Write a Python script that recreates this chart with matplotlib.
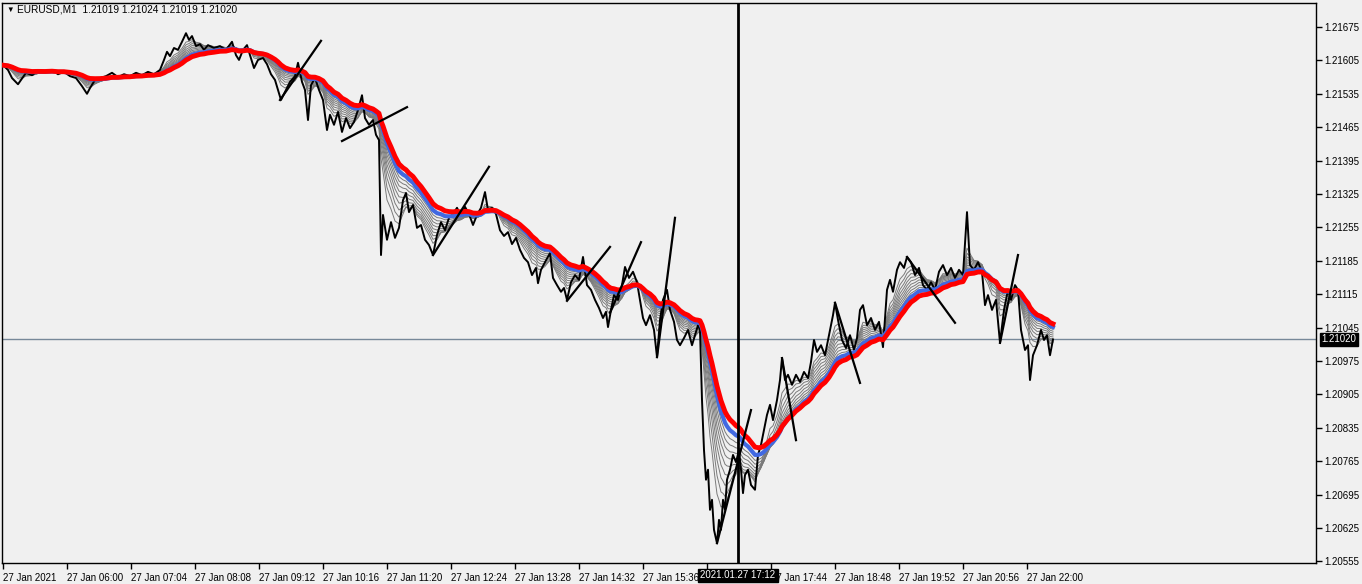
import numpy as np
import matplotlib
matplotlib.use("Agg")
import matplotlib.pyplot as plt

plt.rcParams['font.family'] = ['Liberation Sans', 'DejaVu Sans']

# minutes since 27 Jan 04:56 (first bar), traced price path (in points, 1e-5)
bar_minute = [
    0, 5, 9, 15, 18, 23, 29, 35, 42, 49, 55, 61, 67, 73, 79, 84, 87, 92, 97, 103,
    109, 115, 121, 127, 133, 139, 145, 151, 157, 161, 164, 167, 171, 175, 179, 183, 186, 189, 193, 197,
    201, 205, 211, 217, 223, 229, 233, 236, 240, 244, 247, 251, 255, 260, 264, 268, 272, 275, 278, 282,
    287, 292, 295, 299, 302, 305, 308, 312, 316, 320, 324, 327, 331, 335, 339, 343, 347, 351, 355, 359,
    362, 366, 370, 373, 376, 378, 380, 384, 388, 392, 396, 400, 403, 406, 410, 414, 418, 422, 426, 430,
    434, 438, 442, 446, 450, 454, 458, 462, 466, 470, 474, 478, 482, 485, 489, 493, 497, 501, 505, 509,
    513, 517, 521, 525, 529, 533, 535, 538, 542, 547, 550, 554, 558, 561, 564, 568, 572, 576, 580, 584,
    588, 592, 596, 600, 603, 605, 608, 611, 615, 619, 622, 626, 630, 634, 637, 640, 643, 647, 651, 654,
    657, 660, 664, 667, 671, 674, 677, 681, 685, 689, 692, 695, 697, 699, 701, 703, 705, 707, 709, 711,
    714, 716, 718, 720, 722, 724, 727, 730, 733, 736, 738, 740, 742, 745, 748, 752, 755, 758, 761, 764,
    767, 770, 774, 777, 779, 782, 785, 789, 793, 797, 801, 805, 808, 811, 814, 818, 822, 826, 830, 832,
    835, 839, 843, 847, 851, 854, 857, 860, 864, 868, 872, 876, 880, 884, 887, 890, 894, 897, 901, 904,
    908, 912, 916, 920, 924, 928, 932, 936, 940, 944, 948, 952, 956, 960, 964, 967, 971, 975, 979, 982,
    985, 989, 993, 997, 1001, 1005, 1008, 1012, 1015, 1018, 1022, 1025, 1027, 1030, 1034, 1038, 1041, 1044, 1047, 1050,
]
price_pts = [
    121595, 121585, 121568, 121555, 121564, 121579, 121574, 121583, 121581, 121585, 121576, 121581, 121572, 121568, 121551, 121535, 121547, 121564, 121568, 121572,
    121579, 121570, 121576, 121572, 121579, 121574, 121581, 121576, 121585, 121606, 121623, 121614, 121631, 121627, 121644, 121662, 121648, 121656, 121635, 121639,
    121627, 121637, 121631, 121635, 121627, 121644, 121616, 121606, 121627, 121637, 121616, 121589, 121606, 121610, 121597, 121576, 121564, 121543, 121522, 121539,
    121560, 121572, 121600, 121560, 121543, 121480, 121553, 121568, 121543, 121522, 121459, 121491, 121470, 121497, 121455, 121484, 121463, 121476, 121501, 121532,
    121484, 121470, 121480, 121449, 121438, 121197, 121281, 121229, 121266, 121233, 121254, 121312, 121327, 121287, 121302, 121254, 121260, 121229, 121218, 121197,
    121239, 121266, 121249, 121275, 121283, 121296, 121279, 121298, 121283, 121260, 121281, 121296, 121329, 121291, 121296, 121283, 121249, 121237, 121245, 121220,
    121233, 121208, 121191, 121182, 121155, 121170, 121138, 121166, 121182, 121201, 121149, 121134, 121120, 121128, 121103, 121140, 121155, 121145, 121193, 121134,
    121124, 121103, 121086, 121065, 121078, 121046, 121082, 121113, 121103, 121134, 121172, 121149, 121162, 121140, 121103, 121065, 121050, 121071, 121040, 120983,
    121061, 121103, 121124, 121082, 121057, 121019, 121008, 121023, 121040, 121008, 121029, 121050, 121040, 120893, 120788, 120726, 120747, 120663, 120684, 120621,
    120593, 120642, 120621, 120684, 120663, 120726, 120747, 120778, 120763, 120788, 120747, 120698, 120736, 120747, 120715, 120705, 120778, 120799, 120830, 120862,
    120883, 120851, 120893, 120935, 120981, 120935, 120946, 120925, 120946, 120931, 120952, 120939, 120973, 121019, 120994, 121008, 120987, 121029, 121071, 121097,
    121061, 121019, 121002, 121029, 120998, 121023, 121082, 121092, 121050, 121065, 121040, 121057, 121004, 121124, 121145, 121120, 121166, 121182, 121170, 121193,
    121182, 121155, 121170, 121134, 121124, 121140, 121124, 121162, 121176, 121155, 121170, 121149, 121166, 121155, 121287, 121176, 121166, 121182, 121162, 121092,
    121113, 121082, 121103, 121013, 121082, 121124, 121103, 121134, 121124, 121040, 120998, 121008, 120935, 120987, 121008, 121040, 121019, 121029, 120987, 121020,
]

# hand-drawn trend lines: (minute, points) start -> end
trend_start = [(277, 121522), (339, 121436), (430, 121197), (564, 121101), (607, 121076), (654, 120983),
               (714, 120593), (779, 120981), (832, 121097), (904, 121193), (997, 121013)]
trend_end = [(318, 121646), (404, 121507), (486, 121382), (607, 121214), (638, 121224), (672, 121275),
             (748, 120872), (793, 120809), (857, 120929), (952, 121055), (1015, 121197)]

ribbon_periods = [15, 20, 25, 30, 35, 40, 45, 50, 55]
blue_period = 62
red_period = 72

y_ticks = [1.20555, 1.20625, 1.20695, 1.20765, 1.20835, 1.20905, 1.20975, 1.21045, 1.21115,
           1.21185, 1.21255, 1.21325, 1.21395, 1.21465, 1.21535, 1.21605, 1.21675]
x_ticks = [0, 64, 128, 192, 256, 320, 384, 448, 512, 576, 640, 704, 768, 832, 896, 960, 1024]
# the 16:40 label sits under the crosshair time box, as in MT4
x_labels = ['27 Jan 2021', '27 Jan 06:00', '27 Jan 07:04', '27 Jan 08:08', '27 Jan 09:12', '27 Jan 10:16',
            '27 Jan 11:20', '27 Jan 12:24', '27 Jan 13:28', '27 Jan 14:32', '27 Jan 15:36', '',
            '27 Jan 17:44', '27 Jan 18:48', '27 Jan 19:52', '27 Jan 20:56', '27 Jan 22:00']

last_price = 1.21020
cross_minute = 735
cross_label = '2021.01.27 17:12'
header = 'EURUSD,M1  1.21019 1.21024 1.21019 1.21020'

t = np.array(bar_minute, dtype=float)
p = np.array(price_pts) / 1e5


def ema(t, p, n):
    a = 2.0 / (n + 1)
    out = [p[0]]
    for i in range(1, len(p)):
        k = 1 - (1 - a) ** (t[i] - t[i - 1])
        out.append(out[-1] + k * (p[i] - out[-1]))
    return np.array(out)


bg = '#f0f0f0'
fig = plt.figure(figsize=(13.62, 5.84), dpi=100, facecolor=bg)
ax = fig.add_axes([2 / 1362, 21 / 584, 1314 / 1362, 560 / 584], facecolor=bg)

for n in ribbon_periods:
    ax.plot(t, ema(t, p, n), color='#7a7a7a', lw=0.7, zorder=2)
ax.plot(t, p, color='black', lw=1.4, zorder=3)
ax.plot(t, ema(t, p, blue_period), color='#4169e1', lw=3, zorder=4)
ax.plot(t, ema(t, p, red_period), color='#ff0000', lw=3.5, zorder=5)

for (x0, y0), (x1, y1) in zip(trend_start, trend_end):
    ax.plot([x0, x1], [y0 / 1e5, y1 / 1e5], color='black', lw=1.6, zorder=6)

ax.axhline(last_price, color='#778899', lw=1, zorder=1)
ax.axvline(cross_minute, color='black', lw=2, zorder=7)

ax.set_xlim(-1, 1313)
ax.set_ylim(1.205515, 1.217253)

ax.yaxis.tick_right()
ax.set_yticks(y_ticks)
ax.set_yticklabels(['%.5f' % v for v in y_ticks])
ax.set_xticks(x_ticks)
ax.set_xticklabels(x_labels)
for lab in ax.get_xticklabels():
    lab.set_ha('left')
ax.tick_params(axis='both', direction='out', length=4, width=1, labelsize=7, colors='black', pad=2)
ax.tick_params(axis='x', pad=3)
for s in ax.spines.values():
    s.set_color('black')
    s.set_linewidth(1)

# current price and crosshair time labels
ax.annotate('%.5f' % last_price, xy=(1.0, last_price), xycoords=('axes fraction', 'data'),
            xytext=(4, 0), textcoords='offset points', va='center', ha='left', fontsize=7,
            color='white', bbox=dict(boxstyle='square,pad=0.15', fc='black', ec='black'), zorder=10,
            annotation_clip=False)
ax.annotate(cross_label, xy=(cross_minute, 0), xycoords=('data', 'axes fraction'),
            xytext=(0, -9), textcoords='offset points', va='center', ha='center', fontsize=7,
            color='white', bbox=dict(boxstyle='square,pad=0.2', fc='black', ec='black'), zorder=10,
            annotation_clip=False)

fig.text(6 / 1362, 1 - 10 / 584, '\u25bc', fontsize=5.5, va='center', ha='left', color='black')
fig.text(17 / 1362, 1 - 10 / 584, header, fontsize=7.3, va='center', ha='left', color='black')

fig.savefig('out.png', dpi=100, facecolor=bg)
